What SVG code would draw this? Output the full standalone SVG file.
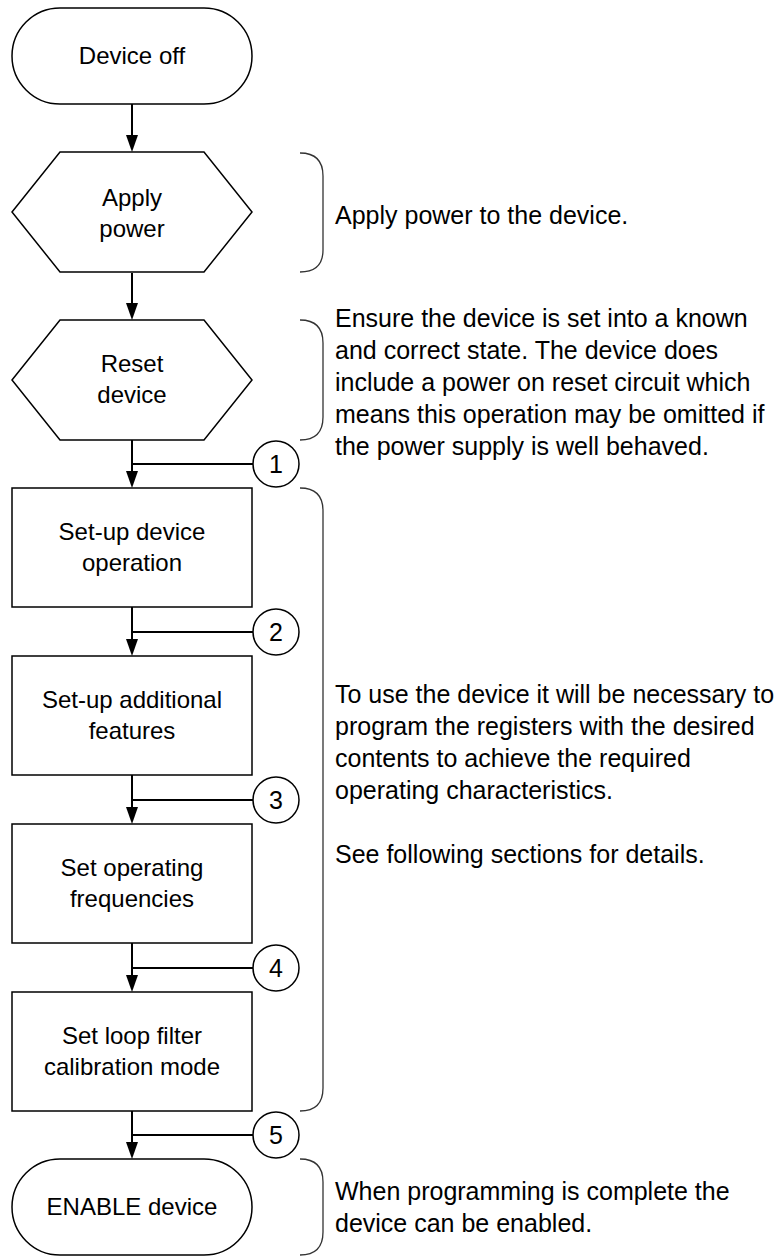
<svg xmlns="http://www.w3.org/2000/svg" width="779" height="1256" viewBox="0 0 779 1256">
<style>
.shape{fill:#fff;stroke:#000;stroke-width:1.5}
.conn{fill:none;stroke:#000;stroke-width:2}
.brace{fill:none;stroke:#333;stroke-width:1.3}
.lbl{font-family:"Liberation Sans",Arial,sans-serif;font-size:24px;fill:#000;text-anchor:middle}
.note{font-family:"Liberation Sans",Arial,sans-serif;font-size:25px;fill:#000}
.num{font-family:"Liberation Sans",Arial,sans-serif;font-size:25px;fill:#000;text-anchor:middle}
</style>
<defs>
<marker id="ah" markerWidth="12" markerHeight="17" refX="6" refY="17" orient="auto-start-reverse" markerUnits="userSpaceOnUse" viewBox="0 0 12 17">
<path d="M0,0 L12,0 L6,17 Z" fill="#000"/>
</marker>
</defs>
<rect width="779" height="1256" fill="#fff"/>
<g id="connectors">
<line class="conn" x1="132" y1="104" x2="132" y2="135"/>
<path d="M126,135 L138,135 L132,152 Z"/>
<line class="conn" x1="132" y1="273" x2="132" y2="303"/>
<path d="M126,303 L138,303 L132,320 Z"/>
<line class="conn" x1="132" y1="440" x2="132" y2="471"/>
<path d="M126,471 L138,471 L132,488 Z"/>
<line class="conn" x1="132" y1="464" x2="253" y2="464"/>
<line class="conn" x1="132" y1="607" x2="132" y2="639"/>
<path d="M126,639 L138,639 L132,656 Z"/>
<line class="conn" x1="132" y1="632" x2="253" y2="632"/>
<line class="conn" x1="132" y1="775" x2="132" y2="807"/>
<path d="M126,807 L138,807 L132,824 Z"/>
<line class="conn" x1="132" y1="800" x2="253" y2="800"/>
<line class="conn" x1="132" y1="943" x2="132" y2="975"/>
<path d="M126,975 L138,975 L132,992 Z"/>
<line class="conn" x1="132" y1="968" x2="253" y2="968"/>
<line class="conn" x1="132" y1="1111" x2="132" y2="1142"/>
<path d="M126,1142 L138,1142 L132,1159 Z"/>
<line class="conn" x1="132" y1="1135" x2="253" y2="1135"/>
</g>
<g id="device-off">
<rect class="shape" x="12" y="8" width="240" height="96" rx="48" ry="48"/>
<text class="lbl" x="132" y="64">Device off</text>
</g>
<g id="apply-power">
<polygon class="shape" points="12,212 60,152 204,152 252,212 204,272 60,272"/>
<text class="lbl" x="132" y="206">Apply</text>
<text class="lbl" x="132" y="237">power</text>
</g>
<g id="reset-device">
<polygon class="shape" points="12,380 60,320 204,320 252,380 204,440 60,440"/>
<text class="lbl" x="132" y="372">Reset</text>
<text class="lbl" x="132" y="403">device</text>
</g>
<g id="setup-operation">
<rect class="shape" x="12" y="488" width="240" height="119"/>
<text class="lbl" x="132" y="540">Set-up device</text>
<text class="lbl" x="132" y="571">operation</text>
</g>
<g id="setup-features">
<rect class="shape" x="12" y="656" width="240" height="119"/>
<text class="lbl" x="132" y="708">Set-up additional</text>
<text class="lbl" x="132" y="739">features</text>
</g>
<g id="set-frequencies">
<rect class="shape" x="12" y="824" width="240" height="119"/>
<text class="lbl" x="132" y="876">Set operating</text>
<text class="lbl" x="132" y="907">frequencies</text>
</g>
<g id="set-loop-filter">
<rect class="shape" x="12" y="992" width="240" height="119"/>
<text class="lbl" x="132" y="1044">Set loop filter</text>
<text class="lbl" x="132" y="1075">calibration mode</text>
</g>
<g id="enable-device">
<rect class="shape" x="12" y="1159" width="240" height="96" rx="48" ry="48"/>
<text class="lbl" x="132" y="1215">ENABLE device</text>
</g>
<g id="ref-1">
<circle class="shape" cx="276" cy="464" r="23"/>
<text class="num" x="276" y="473">1</text>
</g>
<g id="ref-2">
<circle class="shape" cx="276" cy="632" r="23"/>
<text class="num" x="276" y="641">2</text>
</g>
<g id="ref-3">
<circle class="shape" cx="276" cy="800" r="23"/>
<text class="num" x="276" y="809">3</text>
</g>
<g id="ref-4">
<circle class="shape" cx="276" cy="968" r="23"/>
<text class="num" x="276" y="977">4</text>
</g>
<g id="ref-5">
<circle class="shape" cx="276" cy="1135" r="23"/>
<text class="num" x="276" y="1144">5</text>
</g>
<g id="note-apply">
<path class="brace" d="M300,153 Q323,153 323,176 V250 Q323,272 300,272"/>
<text class="note" x="335" y="224">Apply power to the device.</text>
</g>
<g id="note-reset">
<path class="brace" d="M300,320 Q323,320 323,343 V417 Q323,440 300,440"/>
<text class="note" x="335" y="327">Ensure the device is set into a known</text>
<text class="note" x="335" y="359">and correct state. The device does</text>
<text class="note" x="335" y="391">include a power on reset circuit which</text>
<text class="note" x="335" y="423">means this operation may be omitted if</text>
<text class="note" x="335" y="455">the power supply is well behaved.</text>
</g>
<g id="note-program">
<path class="brace" d="M300,488 Q323,488 323,511 V1088 Q323,1111 300,1111"/>
<text class="note" x="335" y="703">To use the device it will be necessary to</text>
<text class="note" x="335" y="735">program the registers with the desired</text>
<text class="note" x="335" y="767">contents to achieve the required</text>
<text class="note" x="335" y="799">operating characteristics.</text>
<text class="note" x="335" y="863">See following sections for details.</text>
</g>
<g id="note-enable">
<path class="brace" d="M300,1159 Q323,1159 323,1182 V1232 Q323,1255 300,1255"/>
<text class="note" x="335" y="1200">When programming is complete the</text>
<text class="note" x="335" y="1232">device can be enabled.</text>
</g>
</svg>
